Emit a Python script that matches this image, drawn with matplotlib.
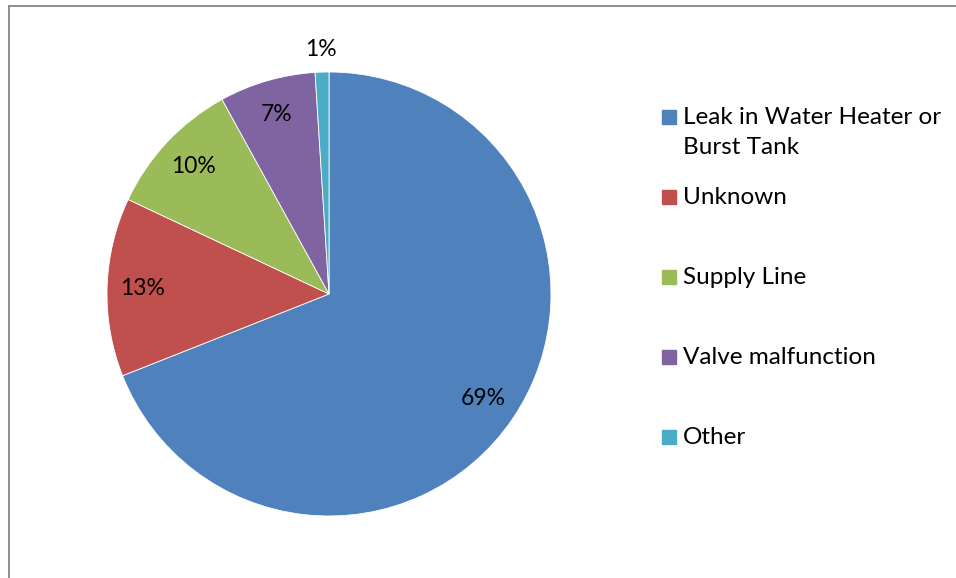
import numpy as np
import matplotlib
matplotlib.use("Agg")
import matplotlib.pyplot as plt
from matplotlib.patches import Rectangle
from matplotlib.lines import Line2D

categories = ["Leak in Water Heater or\nBurst Tank", "Unknown", "Supply Line",
              "Valve malfunction", "Other"]
shares = [69, 13, 10, 7, 1]
colors = ["#4F81BD", "#C0504D", "#9BBB59", "#8064A2", "#4BACC6"]

plt.rcParams["font.family"] = ["Lato", "DejaVu Sans"]
W, H = 956, 578
fig = plt.figure(figsize=(W / 100, H / 100), dpi=100)

# pie centred at (329, 294) px, radius 222 px
cx, cy, r = 329, 294, 222
ax = fig.add_axes([(cx - r) / W, (H - cy - r) / H, 2 * r / W, 2 * r / H])
wedges, _ = ax.pie(shares, colors=colors, startangle=90, counterclock=False,
                   wedgeprops=dict(edgecolor="white", linewidth=0.6))
ax.set_xlim(-1, 1); ax.set_ylim(-1, 1); ax.set_aspect("equal")

# percentage labels (small slice label sits outside, like Excel best fit)
for w, v in zip(wedges, shares):
    ang = np.deg2rad((w.theta1 + w.theta2) / 2)
    d = 1.10 if v < 3 else 0.84
    ax.text(d * np.cos(ang), d * np.sin(ang), f"{v}%", ha="center", va="center",
            fontsize=16.5, color="black")

# legend drawn by hand so the square lines up with the first text line
for k, (lab, c) in enumerate(zip(categories, colors)):
    y = 117 + 80 * k
    fig.patches.append(Rectangle((662 / W, 1 - (y + 7) / H), 14 / W, 14 / H,
                                 transform=fig.transFigure, color=c))
    for i, ln in enumerate(lab.split("\n")):
        fig.text(683 / W, 1 - (y + 31 * i) / H, ln, ha="left", va="center",
                 fontsize=17.5, color="black")

# chart area frame: top and left edges
fig.add_artist(Line2D([9 / W, 1], [1 - 5.5 / H, 1 - 5.5 / H], transform=fig.transFigure,
                      color="#868686", lw=1.3))
fig.add_artist(Line2D([9 / W, 9 / W], [0, 1 - 5.5 / H], transform=fig.transFigure,
                      color="#868686", lw=1.3))

fig.savefig("out.png", dpi=100)
